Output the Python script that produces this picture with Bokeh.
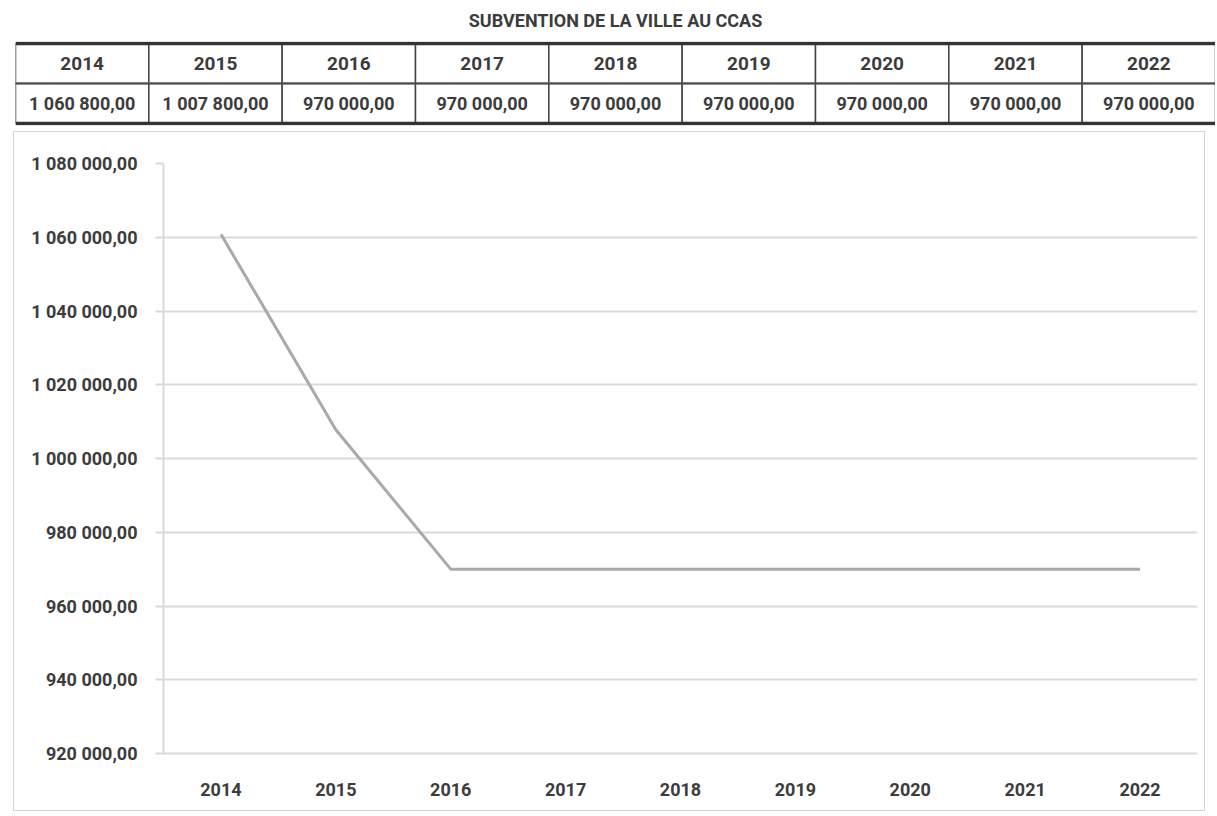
from bokeh.plotting import figure
from bokeh.models import FactorRange, Range1d, CustomJSTickFormatter, FixedTicker
from bokeh.core.properties import value
from bokeh.embed import file_html
from bokeh.resources import INLINE

# ---- data ----
years = ["2014", "2015", "2016", "2017", "2018", "2019", "2020", "2021", "2022"]
subvention = [1060800, 1007800, 970000, 970000, 970000, 970000, 970000, 970000, 970000]
y_ticks = [920000, 940000, 960000, 980000, 1000000, 1020000, 1040000, 1060000, 1080000]
title_text = "SUBVENTION DE LA VILLE AU CCAS"

FONT = "Roboto, sans-serif"
TXT = "#3c3c3c"


def fr(v):
    s = f"{v:,.2f}"
    ip, dp = s.split(".")
    return ip.replace(",", " ") + "," + dp


value_labels = [fr(v) for v in subvention]

# ---- table figure ----
t = figure(width=1200, height=131, x_range=FactorRange(*years), y_range=Range1d(-0.06, 2.06),
           output_backend="svg", toolbar_location=None,
           x_axis_location=None, y_axis_location=None,
           min_border_left=0, min_border_right=0, min_border_top=41, min_border_bottom=6,
           styles={"margin-left": "15px"})
t.outline_line_color = None
t.grid.grid_line_color = None
t.title.text = title_text
t.title.align = "center"
t.title.vertical_align = "top"
t.title.text_font = FONT
t.title.text_font_style = "bold"
t.title.text_font_size = "18px"
t.title.text_color = TXT
t.title.standoff = 18

t.rect(x=years, y=[1.5] * len(years), width=1, height=1, fill_color="white",
       line_color="#444444", line_width=1.5)
t.rect(x=years, y=[0.5] * len(years), width=1, height=1, fill_color="white",
       line_color="#444444", line_width=1.5)
t.hspan(y=[0, 2], line_color="#333333", line_width=3.5)
t.hspan(y=[1], line_color="#505050", line_width=2)
t.text(x=years, y=[1.5] * len(years), text=years, text_align="center", text_baseline="middle",
       text_font=value(FONT), text_font_style="bold", text_font_size="19px", text_color=TXT)
t.text(x=years, y=[0.5] * len(years), text=value_labels, text_align="center", text_baseline="middle",
       text_font=value(FONT), text_font_style="bold", text_font_size="18px", text_color=TXT)

# ---- chart figure ----
p = figure(width=1192, height=680, x_range=FactorRange(*years),
           y_range=Range1d(y_ticks[0], y_ticks[-1]),
           output_backend="svg", toolbar_location=None,
           min_border_left=149, min_border_right=9, min_border_top=31, min_border_bottom=59,
           styles={"margin-left": "13px", "border": "1px solid #d4d4d4"})
p.outline_line_color = None
p.line(x=years, y=subvention, line_color="#a9a9a9", line_width=3)

p.yaxis.ticker = FixedTicker(ticks=y_ticks)
p.yaxis.formatter = CustomJSTickFormatter(code="""
const s = tick.toFixed(2).split('.');
return s[0].replace(/\\B(?=(\\d{3})+(?!\\d))/g, ' ') + ',' + s[1];
""")
p.ygrid.grid_line_color = "#d9d9d9"
p.ygrid.grid_line_width = 2
p.xgrid.grid_line_color = None

for ax in (p.xaxis, p.yaxis):
    ax.axis_line_color = "#d9d9d9"
    ax.axis_line_width = 2
    ax.major_label_text_font = FONT
    ax.major_label_text_font_style = "bold"
    ax.major_label_text_font_size = "18px"
    ax.major_label_text_color = TXT
    ax.minor_tick_line_color = None
p.yaxis.major_tick_line_color = "#d9d9d9"
p.yaxis.major_tick_line_width = 2
p.yaxis.major_tick_out = 8
p.yaxis.major_tick_in = 0
p.yaxis.major_label_standoff = 18
p.xaxis.major_tick_line_color = None
p.xaxis.major_label_standoff = 23

open("out.html", "w").write(file_html([t, p], INLINE))
